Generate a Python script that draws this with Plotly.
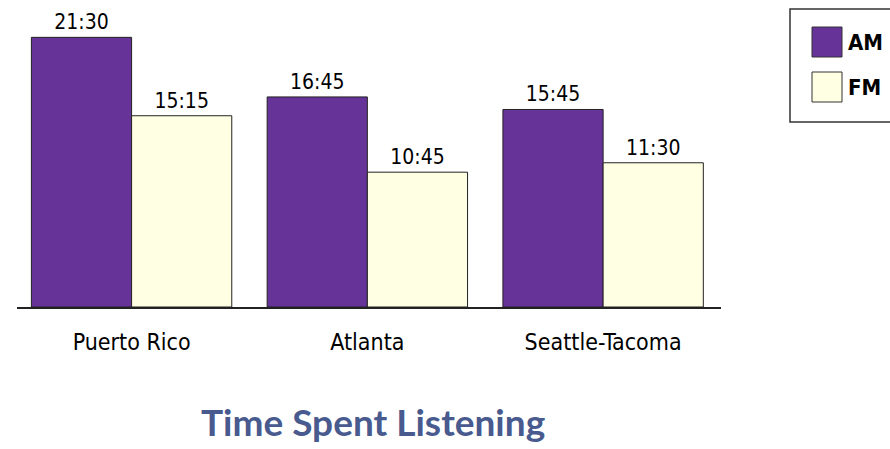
import plotly.graph_objects as go

# Average time spent listening per market (h:mm)
markets = ["Puerto Rico", "Atlanta", "Seattle-Tacoma"]
am_labels = ["21:30", "16:45", "15:45"]
fm_labels = ["15:15", "10:45", "11:30"]
series_names = ["AM", "FM"]
chart_title = "Time Spent Listening"


def to_hours(label):
    h, m = label.split(":")
    return int(h) + int(m) / 60


am_hours = [to_hours(v) for v in am_labels]
fm_hours = [to_hours(v) for v in fm_labels]

AM_COLOR = "#663399"
FM_COLOR = "#FFFFE4"
LABEL_FONT = "Liberation Sans Narrow, DejaVu Sans Condensed, Arial Narrow, sans-serif"

fig = go.Figure()
for name, vals, labels, color in [
    (series_names[0], am_hours, am_labels, AM_COLOR),
    (series_names[1], fm_hours, fm_labels, FM_COLOR),
]:
    fig.add_trace(go.Bar(
        name=name,
        x=markets,
        y=vals,
        text=labels,
        textposition="outside",
        textfont=dict(family=LABEL_FONT, size=21, color="#000000"),
        cliponaxis=False,
        marker=dict(color=color, line=dict(color="#222222", width=1)),
        hoverinfo="skip",
    ))

W, H = 890, 449
ML, MR, MT, MB = 17, 169, 6, 142
PH = H - MT - MB
PW = W - ML - MR

fig.update_layout(
    width=W, height=H,
    margin=dict(l=ML, r=MR, t=MT, b=MB, pad=0),
    barmode="group",
    bargap=0.15,
    bargroupgap=0,
    plot_bgcolor="white",
    paper_bgcolor="white",
    showlegend=False,
    font=dict(family=LABEL_FONT, color="#000000"),
)
fig.update_xaxes(
    range=[-0.486, 2.5],
    showline=True, linecolor="#222222", linewidth=1.5,
    ticks="", showgrid=False, zeroline=False,
    tickfont=dict(family=LABEL_FONT, size=23, color="#000000"),
    ticklabelstandoff=14,
)
fig.update_yaxes(range=[0, 24], visible=False, showgrid=False, zeroline=False)


def px_x(x):
    return (x - ML) / PW


def px_y(y):
    return (H - MB - y) / PH


# Legend panel drawn as paper-anchored shapes
shapes = [
    dict(type="rect", xref="paper", yref="paper",
         x0=px_x(790), x1=px_x(893), y0=px_y(122), y1=px_y(9),
         line=dict(color="#333333", width=1.5), fillcolor="white", layer="above"),
]
annotations = []
for i, (name, color) in enumerate(zip(series_names, [AM_COLOR, FM_COLOR])):
    top = 27 + i * 45
    shapes.append(dict(type="rect", xref="paper", yref="paper",
                       x0=px_x(812), x1=px_x(842), y0=px_y(top + 30), y1=px_y(top),
                       line=dict(color="#333333", width=1), fillcolor=color, layer="above"))
    annotations.append(dict(xref="paper", yref="paper", x=px_x(846), y=px_y(top + 15),
                            text=f"<b>{name}</b>", showarrow=False, xanchor="left", yanchor="middle",
                            font=dict(family=LABEL_FONT, size=22, color="#000000")))

annotations.append(dict(xref="paper", yref="paper", x=px_x(373), y=px_y(421),
                        text=f"<b>{chart_title}</b>", showarrow=False,
                        xanchor="center", yanchor="middle",
                        font=dict(family="Lato, Open Sans, sans-serif", size=37, color="#485a8e")))

fig.update_layout(shapes=shapes, annotations=annotations)
fig.write_html("out.html")
